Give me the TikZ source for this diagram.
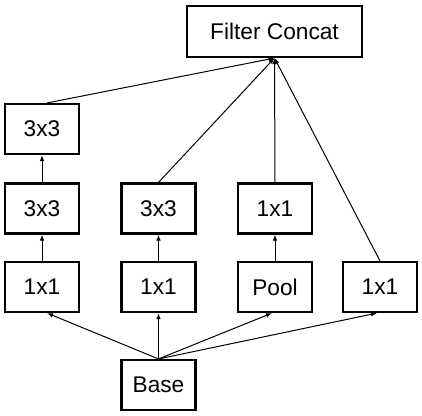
\documentclass[tikz,border=0pt]{standalone}
\usepackage{fontspec}
\setmainfont{Liberation Sans}
\usetikzlibrary{arrows.meta}
\begin{document}
\begin{tikzpicture}[x=1pt,y=-1pt,
  box/.style={draw, line width=2.1pt, minimum width=74pt, minimum height=50pt, inner sep=0pt, font=\fontsize{22.7}{26}\selectfont},
  conn/.style={line width=1pt, -{Latex[length=6pt,width=4.5pt]}}]
\useasboundingbox (0,0) rectangle (422,415);
\node[box, minimum width=175pt, minimum height=51pt] (concat) at (274.5,31.5) {Filter Concat};
\node[box] (a3) at (42,129) {3x3};
\node[box] (a2) at (42,208.5) {3x3};
\node[box] (a1) at (42,287) {1x1};
\node[box] (b2) at (158.5,208.5) {3x3};
\node[box] (b1) at (158.5,287) {1x1};
\node[box] (c2) at (275,208.5) {1x1};
\node[box] (c1) at (275,287) {Pool};
\node[box] (d1) at (380,287) {1x1};
\node[box] (base) at (158.5,385) {Base};
% base to first row
\draw[conn] (base.north) -- ([xshift=5pt]a1.south);
\draw[conn] (base.north) -- (b1.south);
\draw[conn] (base.north) -- ([xshift=-3pt]c1.south);
\draw[conn] (base.north) -- ([xshift=-3pt]d1.south);
% stacks
\draw[conn] (a1.north) -- (a2.south);
\draw[conn] (a2.north) -- (a3.south);
\draw[conn] (b1.north) -- (b2.south);
\draw[conn] (c1.north) -- (c2.south);
% to concat
\draw[conn] ([xshift=5pt]a3.north) -- (concat.south);
\draw[conn] (b2.north) -- (concat.south);
\draw[conn] (c2.north) -- (concat.south);
\draw[conn] (d1.north) -- (concat.south);
\end{tikzpicture}
\end{document}
